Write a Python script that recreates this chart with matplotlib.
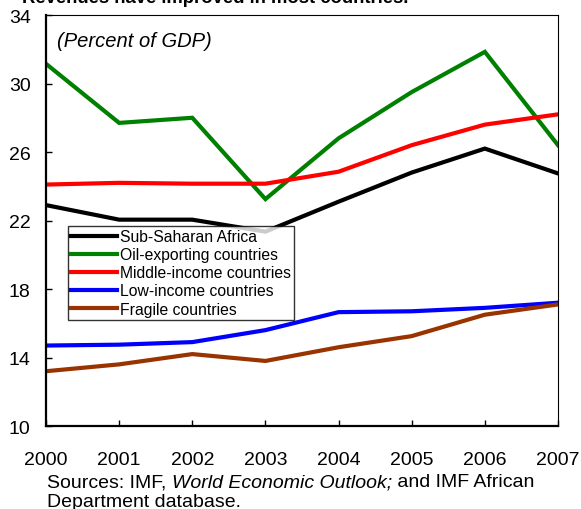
import matplotlib

matplotlib.use("Agg")
import matplotlib.pyplot as plt

plt.rcParams["font.family"] = ["Liberation Sans", "DejaVu Sans"]

YEARS = [2000, 2001, 2002, 2003, 2004, 2005, 2006, 2007]

SSA = [22.9, 22.05, 22.05, 21.35, 23.1, 24.8, 26.2, 24.75]
OIL = [31.15, 27.7, 28.0, 23.25, 26.8, 29.5, 31.85, 26.4]
MIDDLE = [24.1, 24.2, 24.15, 24.15, 24.85, 26.4, 27.6, 28.2]
LOW = [14.7, 14.75, 14.9, 15.6, 16.65, 16.7, 16.9, 17.2]
FRAGILE = [13.2, 13.6, 14.2, 13.8, 14.6, 15.25, 16.5, 17.1]

SERIES = [
    ("Sub-Saharan Africa", SSA, "#000000"),
    ("Oil-exporting countries", OIL, "#008000"),
    ("Middle-income countries", MIDDLE, "#ff0000"),
    ("Low-income countries", LOW, "#0000ff"),
    ("Fragile countries", FRAGILE, "#993300"),
]

Y_TICKS = [10, 14, 18, 22, 26, 30, 34]

fig = plt.figure(figsize=(5.81, 5.10), dpi=100)
ax = fig.add_axes([0.0792, 0.1627, 0.8812, 0.8059])

for label, vals, color in SERIES:
    ax.plot(YEARS, vals, color=color, lw=3, label=label, solid_joinstyle="miter")

ax.set_xlim(YEARS[0], YEARS[-1])
ax.set_ylim(Y_TICKS[0], Y_TICKS[-1])
ax.set_xticks(YEARS)
ax.set_yticks(Y_TICKS)
ax.tick_params(axis="both", direction="in", length=4, width=1, labelsize=14)
ax.tick_params(axis="x", pad=18)
ax.tick_params(axis="y", pad=11)
for side in ["left", "bottom"]:
    ax.spines[side].set_linewidth(1.6)
for side in ["top", "right"]:
    ax.spines[side].set_linewidth(0.8)

ax.text(0.022, 0.962, "(Percent of GDP)", transform=ax.transAxes,
        fontsize=14.5, style="italic", va="top", ha="left")

leg = ax.legend(loc="upper left", bbox_to_anchor=(0.043, 0.487), fontsize=11.3,
                frameon=True, fancybox=False, handlelength=2.9, handletextpad=0.2,
                labelspacing=0.2, borderpad=0.2, borderaxespad=0)
leg.get_frame().set_edgecolor("black")
leg.get_frame().set_linewidth(1.0)

# title sits partly above the top edge of the figure
fig.text(0.038, 1 - 3 / 510, "Revenues have improved in most countries.",
         fontsize=13.3, fontweight="bold", va="baseline", ha="left")

# source note with the italic publication name
fig.canvas.draw()
renderer = fig.canvas.get_renderer()
x0 = 47 / 581
y1 = 1 - 487 / 510
pieces = [("Sources: IMF, ", "normal"), ("World Economic Outlook;", "italic"),
          (" and IMF African", "normal")]
x = x0
for txt, style in pieces:
    t = fig.text(x, y1, txt, fontsize=14, style=style, va="baseline", ha="left")
    bb = t.get_window_extent(renderer)
    x += bb.width / fig.bbox.width
fig.text(x0, 1 - 507 / 510, "Department database.", fontsize=14,
         va="baseline", ha="left")

fig.savefig("out.png", dpi=100)
